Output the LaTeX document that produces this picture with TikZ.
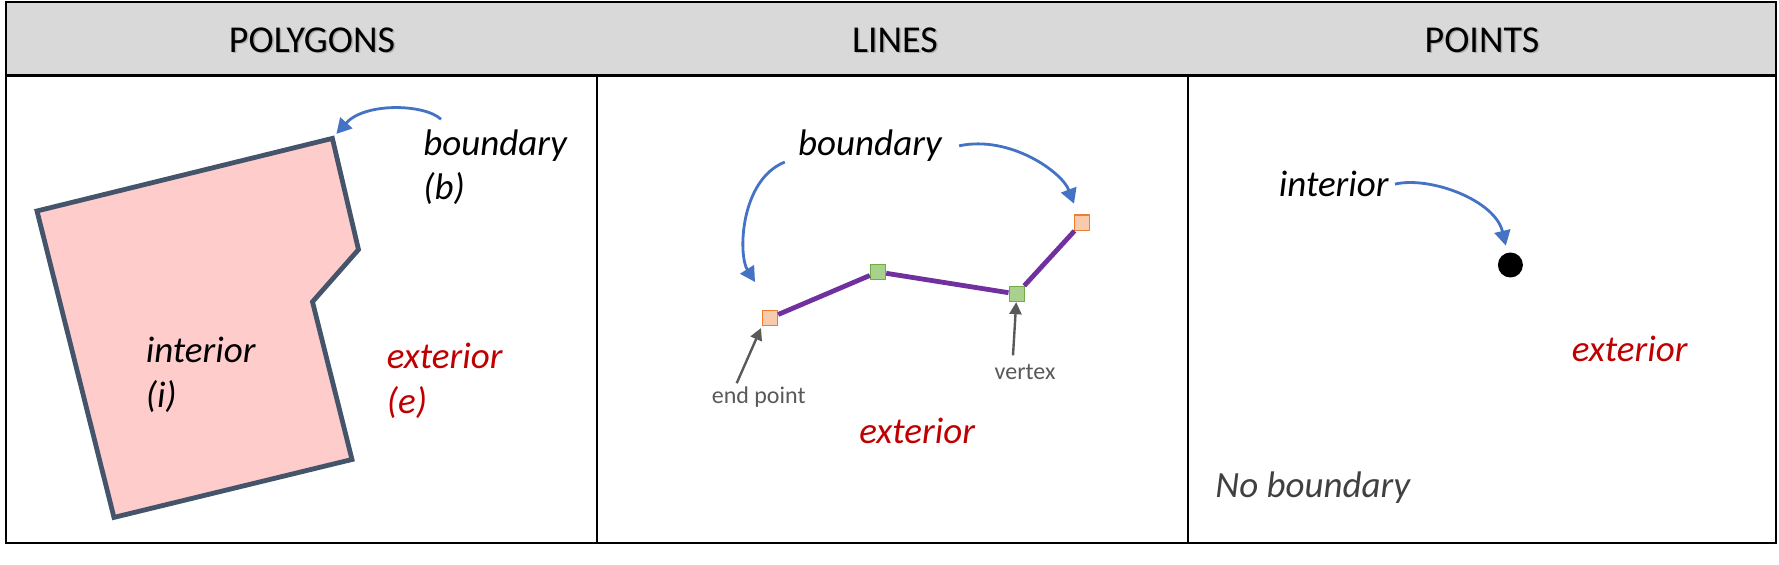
\documentclass[tikz,border=0pt]{standalone}
\usepackage{fontspec}
\setmainfont{Carlito}
\usetikzlibrary{arrows.meta}

\definecolor{hdrgray}{HTML}{D9D9D9}
\definecolor{polyfill}{HTML}{FFCCCC}
\definecolor{polyline}{HTML}{44546A}
\definecolor{arrowblue}{HTML}{4472C4}
\definecolor{linepurple}{HTML}{7030A0}
\definecolor{endfill}{HTML}{F8CBAD}
\definecolor{enddraw}{HTML}{ED7D31}
\definecolor{vtxfill}{HTML}{A9D18E}
\definecolor{vtxdraw}{HTML}{70AD47}
\definecolor{extred}{HTML}{C00000}
\definecolor{notegray}{HTML}{595959}
\definecolor{nbgray}{HTML}{404040}

\begin{document}
\begin{tikzpicture}[x=0.5pt, y=-0.5pt,
  lbl/.style={font=\fontsize{18.5}{22}\selectfont\itshape, inner sep=0pt, anchor=base west},
  hdr/.style={font=\fontsize{19}{22}\selectfont, inner sep=0pt, anchor=base},
  hdrshadow/.style={hdr, text=black!35, opacity=0.8},
  note/.style={font=\fontsize{12}{14}\selectfont, text=notegray, inner sep=0pt, anchor=base},
  endpt/.style={draw=enddraw, fill=endfill, line width=0.6pt, minimum size=7.6pt, inner sep=0pt},
  vtx/.style={draw=vtxdraw, fill=vtxfill, line width=0.6pt, minimum size=7.6pt, inner sep=0pt},
  bluearrow/.style={draw=arrowblue, line width=1.4pt, -{Triangle[length=7.5pt, width=8pt]}},
  grayarrow/.style={draw=notegray, line width=1.2pt, -{Triangle[length=6pt, width=6pt]}}]
  \useasboundingbox (0,0) rectangle (1779,565);

  % Frame
  \draw[fill=hdrgray, line width=1.2pt] (6,2) rectangle (1776,75.5);
  \draw[line width=1.2pt] (6,75.5) rectangle (1776,543);
  \draw[line width=1.2pt] (597,75.5) -- (597,543);
  \draw[line width=1.2pt] (1188,75.5) -- (1188,543);

  % Headers
  \node (S1) [hdrshadow] at (313.5,53.8) {POLYGONS};
  \node (S2) [hdrshadow] at (896.5,53.8) {LINES};
  \node (S3) [hdrshadow] at (1483.5,53.8) {POINTS};
  \node (H1) [hdr] at (312,52.3) {POLYGONS};
  \node (H2) [hdr] at (895,52.3) {LINES};
  \node (H3) [hdr] at (1482,52.3) {POINTS};

  % Polygon
  \coordinate (A) at (37,211);
  \coordinate (B) at (332.4,138.4);
  \coordinate (C) at (358.5,249.6);
  \coordinate (D) at (312.5,301.8);
  \coordinate (E) at (352,459.5);
  \coordinate (F) at (114,517.4);
  \draw[fill=polyfill, draw=polyline, line width=2.4pt] (A) -- (B) -- (C) -- (D) -- (E) -- (F) -- cycle;

  \node (Bnd) [lbl] at (423,155.4) {boundary};
  \node (BndB) [lbl] at (423,200) {(b)};
  \node (Int) [lbl] at (145.4,363) {interior};
  \node (IntI) [lbl] at (145.4,408) {(i)};
  \node (Ext) [lbl, text=extred] at (386.5,368.7) {exterior};
  \node (ExtE) [lbl, text=extred] at (386.5,413.7) {(e)};
  \draw[bluearrow, shorten >=3pt] ([shift={(18,-10)}]Bnd.north west) .. controls (425,104) and (365,102) .. (B);

  % Line
  \node (P1) [endpt] at (770,318) {};
  \node (P2) [vtx] at (878,272) {};
  \node (P3) [vtx] at (1016.7,294) {};
  \node (P4) [endpt] at (1082,222.7) {};
  \draw[linepurple, line width=2.4pt] (P1) -- (P2) -- (P3) -- (P4);

  \node (BndL) [lbl] at (797.8,155.7) {boundary};
  \draw[bluearrow] ([xshift=-6.5pt]BndL.south west) .. controls (740,180) and (738,255) .. ([shift={(-15,-36)}]P1.center);
  \draw[bluearrow] ([xshift=8.5pt]BndL.east) .. controls (1010,135) and (1062,172) .. ([shift={(-8,-19)}]P4.center);

  \node (EndL) [note] at (758.7,403.3) {end point};
  \node (VtxL) [note] at (1025,380) {vertex};
  \draw[grayarrow, shorten >=1pt] ([shift={(-22,-3)}]EndL.north) -- (P1.south west);
  \draw[grayarrow] ([shift={(-12,-9)}]VtxL.north) -- (P3);

  \node (ExtL) [lbl, text=extred] at (859,443.3) {exterior};

  % Point
  \node (Pt) [circle, fill=black, minimum size=12.5pt, inner sep=0pt] at (1510.4,265) {};
  \node (IntR) [lbl] at (1278.5,196.7) {interior};
  \draw[bluearrow, shorten >=3.5pt] ([xshift=3pt]IntR.east) .. controls (1430,176) and (1495,200) .. (Pt);
  \node (ExtR) [lbl, text=extred] at (1571.5,361.7) {exterior};
  \node (NoB) [lbl, text=nbgray] at (1215,497.3) {No boundary};
\end{tikzpicture}
\end{document}
